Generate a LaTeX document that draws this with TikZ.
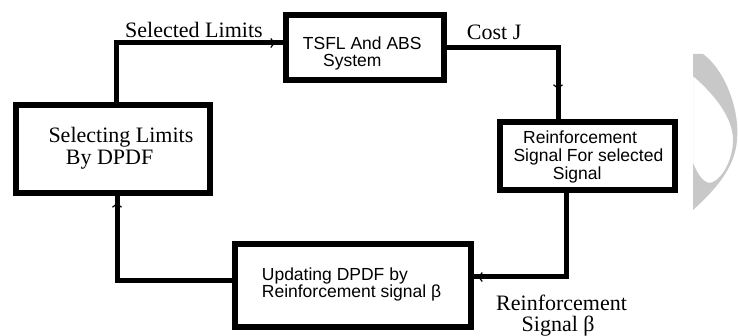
\documentclass[tikz,border=0pt]{standalone}
\usepackage{fontspec}
\setmainfont{Liberation Serif}
\newfontfamily\sansf{Liberation Sans}
\usetikzlibrary{arrows.meta,decorations.markings}
\definecolor{moon}{RGB}{200,200,200}
\begin{document}
\begin{tikzpicture}[x=1pt,y=-1pt,
  blk/.style={draw, line width=6pt, rectangle, inner sep=0pt, fill=white},
  conn/.style={line width=5pt, line cap=butt},
  tipat/.style={postaction={decorate, decoration={markings,
     mark=at position #1 with {\arrow{Straight Barb[length=3.5pt,width=9pt,line width=1.2pt]}}}}},
  serlab/.style={anchor=base west, inner sep=0pt, font=\fontsize{22}{22}\selectfont},
  sanlab/.style={anchor=base west, inner sep=0pt, font=\sansf\fontsize{17.5}{17.5}\selectfont}]
\useasboundingbox (0,0) rectangle (738,336);

% decorative crescent
\fill[moon, even odd rule] (693,54) -- (703,54) .. controls (725,70) and (740,110) .. (737,140)
  .. controls (735,168) and (715,190) .. (693,210) -- cycle
  (693,76) .. controls (715,95) and (733,118) .. (733,140)
  .. controls (733,160) and (722,178) .. (713,182)
  .. controls (705,186) and (698,175) .. (693,163) -- cycle;

% boxes
\node[blk, minimum width=158pt, minimum height=65pt] (tsfl) at (365,47.5) {};
\node[blk, minimum width=194pt, minimum height=88pt] (lb) at (113,149) {};
\node[blk, minimum width=175pt, minimum height=68pt] (rb) at (587.5,156) {};
\node[blk, minimum width=236pt, minimum height=83pt] (bb) at (353,285.5) {};

% connectors
\draw[conn, tipat=-8pt] ([xshift=3pt]lb.north) |- ([yshift=4.5pt]tsfl.west);
\draw[conn, tipat=-30pt] (tsfl.east) -| ([xshift=-29.5pt]rb.north);
\draw[conn, tipat=-4pt] ([xshift=-21.5pt]rb.south) |- ([yshift=8.5pt]bb.east);
\draw[conn, tipat=-7pt] ([yshift=5pt]bb.west) -| ([xshift=4pt]lb.south);

% box texts
\node[sanlab] (t1) at (302.7,50) {TSFL And ABS};
\node[sanlab] (t2) at (323,66.5) {System};
\node[serlab] (l1) at (48.3,142.3) {Selecting Limits};
\node[serlab] (l2) at (65.7,164.5) {By DPDF};
\node[sanlab] (r1) at (523,144) {Reinforcement};
\node[sanlab] (r2) at (513.3,161.7) {Signal For selected};
\node[sanlab] (r3) at (552.7,179.3) {Signal};
\node[sanlab] (b1) at (261.7,280) {Updating DPDF by};
\node[sanlab] (b2) at (261.7,297.3) {Reinforcement signal β};

% connector labels
\node[serlab] (sl) at (125,37.3) {Selected Limits};
\node[serlab] (cj) at (466.7,39.3) {Cost J};
\node[serlab, font=\fontsize{22}{18.5}\selectfont] (rs) at (496,310.5)
  {\renewcommand\arraystretch{1}\begin{tabular}[t]{@{}l@{}}Reinforcement\\\hspace*{25.5pt}Signal β\end{tabular}};
\end{tikzpicture}
\end{document}
